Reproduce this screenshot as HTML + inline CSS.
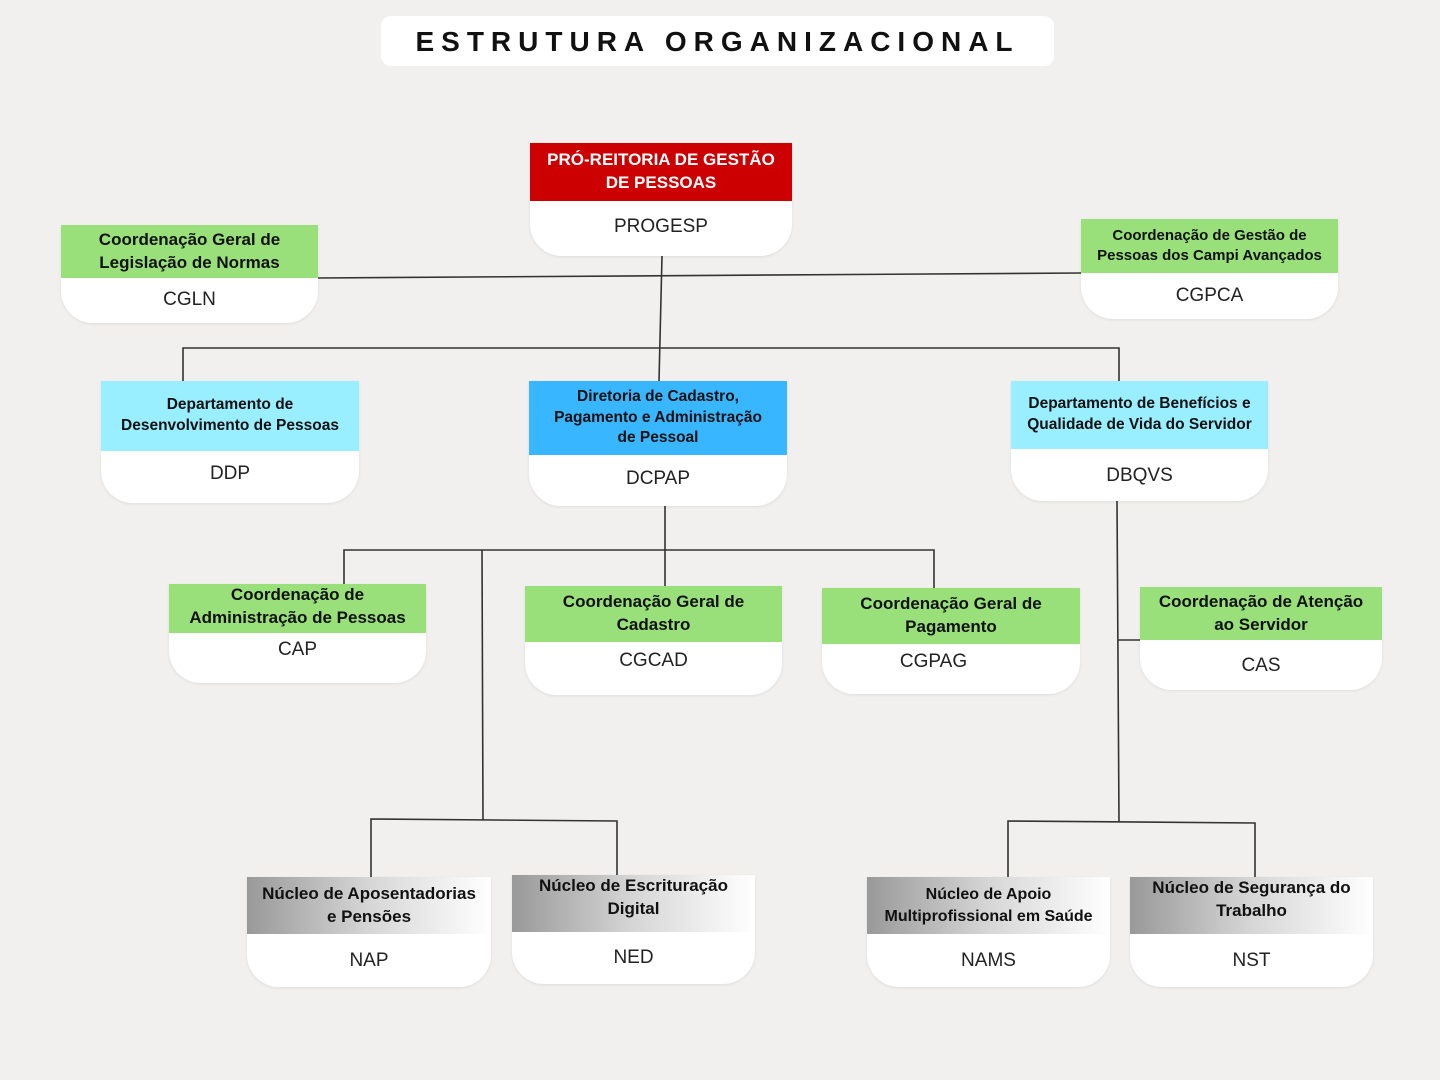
<!DOCTYPE html>
<html><head><meta charset="utf-8"><style>
body{margin:0;width:1440px;height:1080px;background:#f2f0ef;position:relative;overflow:hidden;font-family:"Liberation Sans",sans-serif;}
.t{position:absolute;left:381px;top:16px;width:673px;height:50px;background:#fff;border-radius:10px;text-align:center;line-height:52px;font-weight:bold;font-size:28px;letter-spacing:7px;color:#111;white-space:nowrap;}
.b{position:absolute;background:#fff;border-radius:0 0 32px 32px;box-shadow:0 1px 3px rgba(0,0,0,.08);}
.h{display:flex;align-items:center;justify-content:center;text-align:center;font-weight:bold;color:#111;line-height:1.35;}
.c{text-align:center;font-size:19px;color:#222;}
.r{background:#cc0000;color:#fff;}
.g{background:#99e07a;}
.cy{background:#99eeff;}
.bl{background:#38b6ff;}
.gr{background:linear-gradient(90deg,#999 0%,#d6d6d6 50%,#fff 100%);}
svg{position:absolute;left:0;top:0}
</style></head><body>
<svg width="1440" height="1080"><g stroke="#333" stroke-width="1.6" fill="none">
<line x1="662" y1="256" x2="659" y2="381"/>
<line x1="318" y1="278" x2="1081" y2="273"/>
<polyline points="183,381 183,348 1119,348 1119,381"/>
<line x1="665" y1="506" x2="665" y2="586"/>
<polyline points="344,584 344,550 934,550 934,588"/>
<line x1="482" y1="550" x2="483" y2="820"/>
<polyline points="371,877 371,819 617,821 617,875"/>
<line x1="1117" y1="501" x2="1119" y2="822"/>
<line x1="1118" y1="640" x2="1140" y2="640"/>
<polyline points="1008,877 1008,821 1255,823 1255,877"/>
</g></svg>
<div class="t">ESTRUTURA ORGANIZACIONAL</div>

<div class="b" style="left:530px;top:143px;width:262px;height:113px"><div class="h r" style="height:58px;font-size:17px">PRÓ-REITORIA DE GESTÃO<br>DE PESSOAS</div><div class="c" style="margin-top:15px">PROGESP</div></div>

<div class="b" style="left:61px;top:225px;width:257px;height:98px"><div class="h g" style="height:53px;font-size:17px">Coordenação Geral de<br>Legislação de Normas</div><div class="c" style="margin-top:11px">CGLN</div></div>

<div class="b" style="left:1081px;top:219px;width:257px;height:100px"><div class="h g" style="height:54px;font-size:15px">Coordenação de Gestão de<br>Pessoas dos Campi Avançados</div><div class="c" style="margin-top:12px">CGPCA</div></div>

<div class="b" style="left:101px;top:381px;width:258px;height:122px"><div class="h cy" style="height:70px;font-size:15.5px">Departamento de<br>Desenvolvimento de Pessoas</div><div class="c" style="margin-top:12px">DDP</div></div>

<div class="b" style="left:529px;top:381px;width:258px;height:125px"><div class="h bl" style="height:74px;font-size:15.5px">Diretoria de Cadastro,<br>Pagamento e Administração<br>de Pessoal</div><div class="c" style="margin-top:13px">DCPAP</div></div>

<div class="b" style="left:1011px;top:381px;width:257px;height:120px"><div class="h cy" style="height:68px;font-size:15.5px">Departamento de Benefícios e<br>Qualidade de Vida do Servidor</div><div class="c" style="margin-top:16px">DBQVS</div></div>

<div class="b" style="left:169px;top:584px;width:257px;height:99px"><div class="h g" style="height:49px;font-size:17px;align-items:flex-start">Coordenação de<br>Administração de Pessoas</div><div class="c" style="margin-top:6px">CAP</div></div>

<div class="b" style="left:525px;top:586px;width:257px;height:109px"><div class="h g" style="height:56px;font-size:17px">Coordenação Geral de<br>Cadastro</div><div class="c" style="margin-top:8px">CGCAD</div></div>

<div class="b" style="left:822px;top:588px;width:258px;height:106px"><div class="h g" style="height:56px;font-size:17px">Coordenação Geral de<br>Pagamento</div><div class="c" style="margin-top:7px;padding-right:35px">CGPAG</div></div>

<div class="b" style="left:1140px;top:587px;width:242px;height:103px"><div class="h g" style="height:53px;font-size:17px">Coordenação de Atenção<br>ao Servidor</div><div class="c" style="margin-top:15px">CAS</div></div>

<div class="b" style="left:247px;top:877px;width:244px;height:110px"><div class="h gr" style="height:57px;font-size:17px">Núcleo de Aposentadorias<br>e Pensões</div><div class="c" style="margin-top:16px">NAP</div></div>

<div class="b" style="left:512px;top:875px;width:243px;height:109px"><div class="h gr" style="height:57px;font-size:17px;align-items:flex-start;padding-top:0">Núcleo de Escrituração<br>Digital</div><div class="c" style="margin-top:15px">NED</div></div>

<div class="b" style="left:867px;top:877px;width:243px;height:110px"><div class="h gr" style="height:57px;font-size:16px">Núcleo de Apoio<br>Multiprofissional em Saúde</div><div class="c" style="margin-top:16px">NAMS</div></div>

<div class="b" style="left:1130px;top:877px;width:243px;height:110px"><div class="h gr" style="height:57px;font-size:17px;align-items:flex-start">Núcleo de Segurança do<br>Trabalho</div><div class="c" style="margin-top:16px">NST</div></div>
</body></html>
